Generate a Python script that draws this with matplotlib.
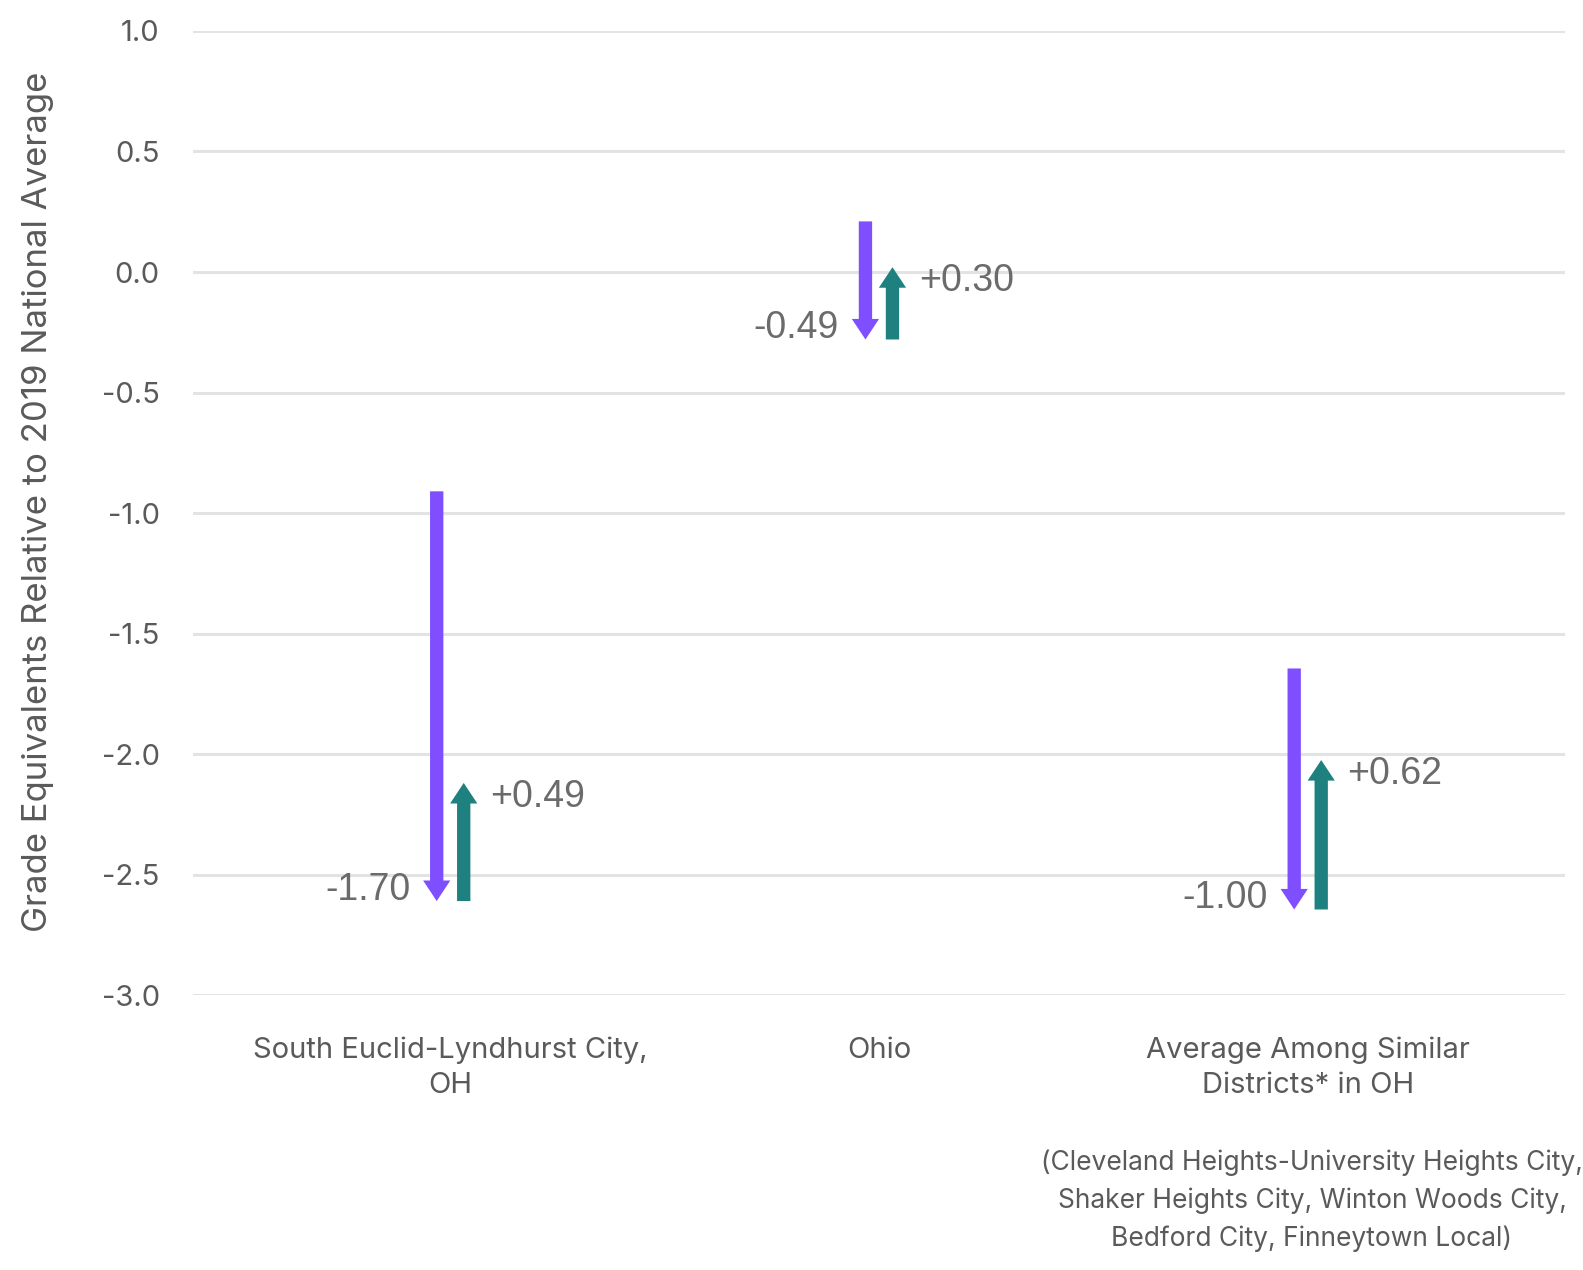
import matplotlib
matplotlib.use("Agg")
import matplotlib.pyplot as plt
from matplotlib.transforms import blended_transform_factory

categories = ["South Euclid-Lyndhurst City,\nOH", "Ohio", "Average Among Similar\nDistricts* in OH"]
start_values = [-0.91, 0.21, -1.645]
decline = [-1.70, -0.49, -1.00]
recovery = [0.49, 0.30, 0.62]
yticks = [1.0, 0.5, 0.0, -0.5, -1.0, -1.5, -2.0, -2.5, -3.0]
ytick_labels = ["1.0", "0.5", "0.0", "-0.5", "-1.0", "-1.5", "-2.0", "-2.5", "-3.0"]
ylabel = "Grade Equivalents Relative to 2019 National Average"
footnote = "(Cleveland Heights-University Heights City,\nShaker Heights City, Winton Woods City,\nBedford City, Finneytown Local)"

PURPLE = "#7F4FFF"
TEAL = "#1F8080"
TXT = "#5a5a5a"

fig = plt.figure(figsize=(15.83, 12.70), dpi=100)
ax = fig.add_axes([0.1219, 0.2165, 0.8667, 0.7591])
ax.set_xlim(-0.6, 2.6)
ax.set_ylim(-3.0, 1.0)

for s in ax.spines.values():
    s.set_visible(False)
ax.set_yticks(yticks)
ax.set_yticklabels(ytick_labels, family="Inter", fontsize=21, color=TXT)
ax.yaxis.grid(True, color="#e3e3e3", linewidth=2.2)
ax.set_axisbelow(True)
ax.tick_params(axis="y", length=0, pad=24)
ax.set_xticks(range(len(categories)))
ax.set_xticklabels(categories, family="Inter", fontsize=21, color=TXT, linespacing=1.38)
ax.tick_params(axis="x", length=0, pad=30)
fig.text(38 / 1583, 1 - 502 / 1270, ylabel, rotation=90, ha="center", va="center",
         family="Inter", fontsize=25, color=TXT)

off = 0.0315
style = "simple,head_width=0.98,head_length=0.74,tail_width=0.48"
for i in range(len(categories)):
    s = start_values[i]
    e = s + decline[i]
    r = e + recovery[i]
    ax.annotate("", xy=(i - off, e), xytext=(i - off, s),
                arrowprops=dict(arrowstyle=style, mutation_scale=20, color=PURPLE,
                                shrinkA=0, shrinkB=0, lw=0))
    ax.annotate("", xy=(i + off, r), xytext=(i + off, e),
                arrowprops=dict(arrowstyle=style, mutation_scale=20, color=TEAL,
                                shrinkA=0, shrinkB=0, lw=0))
    ax.annotate(f"{decline[i]:.2f}", xy=(i - off, e), xytext=(-19, 8), textcoords="offset points",
                ha="right", va="center", family="Liberation Sans", fontsize=27, color="#6b6b6b")
    ax.annotate(f"+{recovery[i]:.2f}", xy=(i + off, r), xytext=(19, -10), textcoords="offset points",
                ha="left", va="center", family="Liberation Sans", fontsize=27, color="#6b6b6b")

tr = blended_transform_factory(ax.transData, fig.transFigure)
fig.text(2.01, 1 - 1201 / 1270, footnote, transform=tr, ha="center", va="center",
         family="Inter", fontsize=19, color=TXT, linespacing=1.55)

fig.savefig("out.png", dpi=100)
